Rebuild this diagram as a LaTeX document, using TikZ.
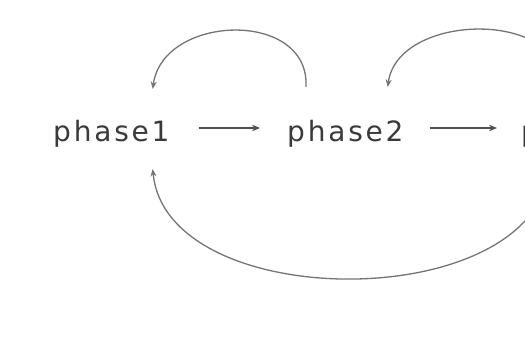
\documentclass[tikz,border=0pt]{standalone}
\usepackage{fontspec}
\setmainfont{DejaVu Sans}[LetterSpace=10]
\usetikzlibrary{arrows.meta}
\definecolor{txt}{HTML}{3A3A3A}
\definecolor{arcg}{HTML}{747474}
\definecolor{lng}{HTML}{505050}
\begin{document}
\begin{tikzpicture}[x=1pt,y=1pt,
  phase/.style={inner sep=0pt,font=\fontsize{28}{30}\selectfont,text=txt},
  arr/.style={draw=lng,line width=1.4pt,-{Stealth[length=8pt,width=6.5pt]}},
  arcarr/.style={draw=arcg,line width=1.3pt,-{Stealth[length=7.5pt,width=6pt]}}]
\fill[white] (0,0) rectangle (525,364);
\useasboundingbox (0,0) rectangle (525,364);
\clip (0,0) rectangle (525,364);
\node[phase,anchor=base west] (phase1) at (53,222) {phase1};
\node[phase,anchor=base west] (phase2) at (287,222) {phase2};
\node[phase,anchor=base west] (phase3) at (521,222) {phase3};
\draw[arr] ([xshift=29pt,yshift=14pt]phase1.base east) -- ([xshift=-27pt,yshift=14pt]phase2.base west);
\draw[arr] ([xshift=26pt,yshift=14pt]phase2.base east) -- ([xshift=-24pt,yshift=14pt]phase3.base west);
\draw[arcarr] ([xshift=19pt,yshift=55pt]phase2.base west) .. controls +(4,78) and +(10,75) .. ([xshift=-17pt,yshift=53pt]phase1.base east);
\draw[arcarr] ([xshift=40pt,yshift=55pt]phase3.base west) .. controls +(4,78) and +(10,75) .. ([xshift=-16pt,yshift=55pt]phase2.base east);
\draw[arcarr] ([xshift=28pt,yshift=-27pt]phase3.base west) .. controls +(-14,-146) and +(14,-146) .. ([xshift=-17pt,yshift=-27pt]phase1.base east);
\end{tikzpicture}
\end{document}
